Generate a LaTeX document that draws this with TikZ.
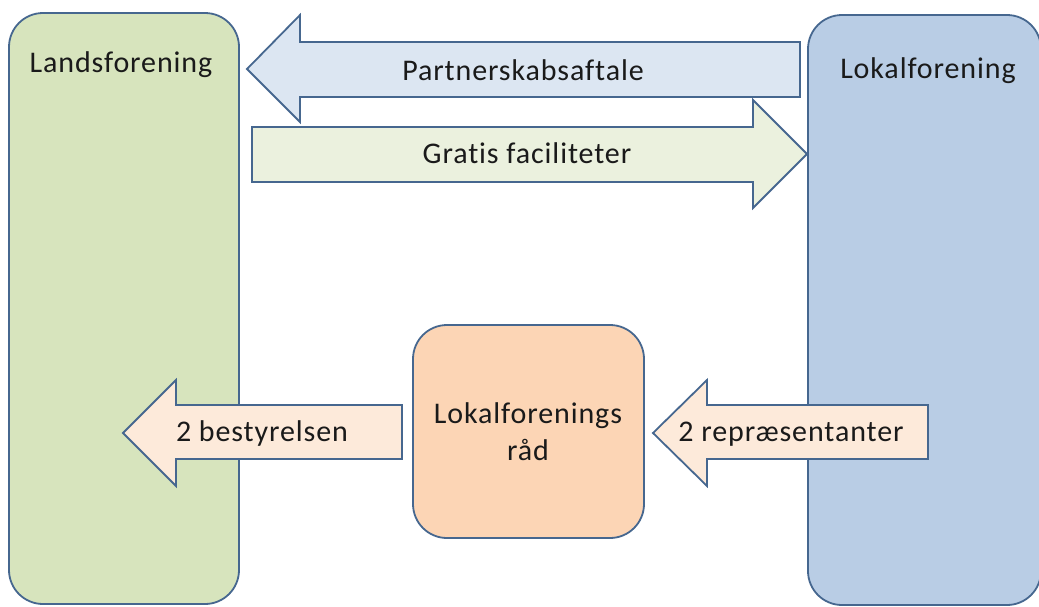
\documentclass[tikz,border=0pt]{standalone}
\usepackage{fontspec}
\setmainfont{Carlito}[Ligatures=NoCommon, LetterSpace=3]
\definecolor{bord}{HTML}{46678F}
\definecolor{lgreen}{HTML}{D7E4BD}
\definecolor{lblue}{HTML}{B9CDE5}
\definecolor{arblue}{HTML}{DCE6F2}
\definecolor{argreen}{HTML}{EBF1DE}
\definecolor{peach}{HTML}{FCD5B5}
\definecolor{lpeach}{HTML}{FDEADA}
\definecolor{txt}{HTML}{1A1A1A}
\begin{document}
\begin{tikzpicture}[x=1pt,y=-1pt,
  bx/.style={draw=bord, line width=1.8pt, rounded corners=34pt, inner sep=0pt},
  ar/.style={draw=bord, line width=1.8pt, line join=miter},
  lbl/.style={font=\fontsize{30}{37}\selectfont, text=txt, inner sep=0pt}]
\useasboundingbox (0,0) rectangle (1039,606);
% big boxes
\node[bx, fill=lgreen, minimum width=230pt, minimum height=591pt] (lands) at (124,308.5) {};
\node[bx, fill=lblue, minimum width=233pt, minimum height=590pt] (lokal) at (924.5,310) {};
\node[bx, fill=peach, minimum width=231pt, minimum height=213pt] (raad) at (528.5,431.5) {};
% block arrows
\draw[ar, fill=arblue] (800,42) -- (300,42) -- (300,15) -- (247,69) -- (300,122) -- (300,97) -- (800,97) -- cycle;
\draw[ar, fill=argreen] (252,127) -- (753,127) -- (753,100) -- (807,154) -- (753,208) -- (753,182) -- (252,182) -- cycle;
\draw[ar, fill=lpeach] (402,405) -- (176,405) -- (176,380) -- (123,433) -- (176,486) -- (176,459) -- (402,459) -- cycle;
\draw[ar, fill=lpeach] (928,405) -- (707,405) -- (707,380) -- (653,433) -- (707,486) -- (707,459) -- (928,459) -- cycle;
% labels
\node[lbl, anchor=base] (lands-t) at (121,72) {Landsforening};
\node[lbl, anchor=base] (lokal-t) at (928,78) {Lokalforening};
\node[lbl, anchor=base] (partner) at (523,80) {Partnerskabsaftale};
\node[lbl, anchor=base] (gratis) at (527,163) {Gratis faciliteter};
\node[lbl, anchor=base] (bestyr) at (262,441) {2 bestyrelsen};
\node[lbl, anchor=base] (repr) at (791,441) {2 repræsentanter};
\node[lbl, align=center] (raad-t) at (528,432) {Lokalforenings\\råd};
\end{tikzpicture}
\end{document}
